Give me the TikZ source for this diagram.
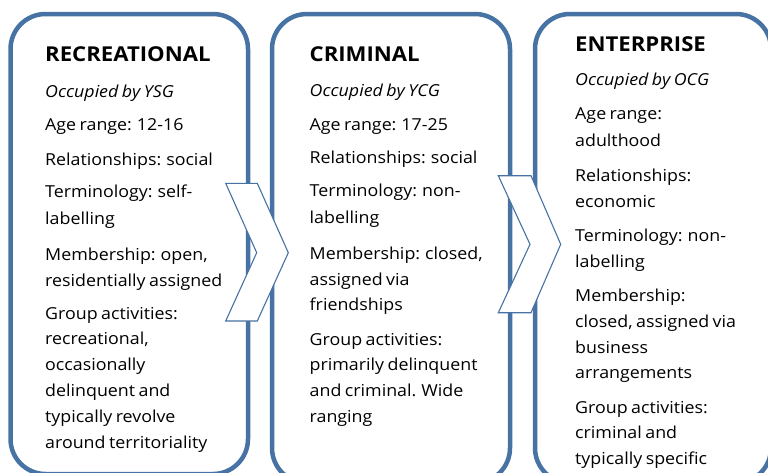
\documentclass[tikz,border=0pt]{standalone}
\usepackage{fontspec}
\setmainfont[FakeStretch=1.08,WordSpace=0.75]{Open Sans}
\definecolor{boxblue}{RGB}{71,114,164}
\tikzset{
  panel/.style={draw=boxblue, line width=4.5pt, rounded corners=35pt, fill=white},
  chev/.style={draw=boxblue, line width=1.1pt, fill=white, line join=miter},
  ttl/.style={anchor=base west, inner sep=0pt, font=\fontsize{20.5}{24}\selectfont\bfseries},
  occ/.style={anchor=base west, inner sep=0pt, font=\fontsize{16.5}{20}\selectfont\itshape},
  txt/.style={anchor=base west, inner sep=0pt, font=\fontsize{16.5}{20}\selectfont},
}
\begin{document}
\begin{tikzpicture}[x=1pt,y=-1pt]
\useasboundingbox (0,0) rectangle (768,472);
\clip (0,0) rectangle (768,472);
% panels
\draw[panel] (10.5,14) rectangle (248,474);
\draw[panel] (272,14) rectangle (510,483);
\draw[panel] (535,14) rectangle (771,483);
% panel 1
\node[ttl] (a0) at (45,61) {RECREATIONAL};
\node[occ] (a1) at (45,97) {Occupied by YSG};
\node[txt] (a2) at (45,130) {Age range: 12-16};
\node[txt] (a3) at (45,165) {Relationships: social};
\node[txt] (a4) at (45,197.5) {Terminology: self-};
\node[txt] (a5) at (45,224) {labelling};
\node[txt] (a6) at (45,260.5) {Membership: open,};
\node[txt] (a7) at (45,286) {residentially assigned};
\node[txt] (a8) at (45,319) {Group activities:};
\node[txt] (a9) at (45,344.5) {recreational,};
\node[txt] (a10) at (45,370.5) {occasionally};
\node[txt] (a11) at (45,396.5) {delinquent and};
\node[txt] (a12) at (45,422) {typically revolve};
\node[txt] (a13) at (45,448) {around territoriality};
% panel 2
\node[ttl] (b0) at (309.5,61.5) {CRIMINAL};
\node[occ] (b1) at (309.5,96.7) {Occupied by YCG};
\node[txt] (b2) at (309.5,130) {Age range: 17-25};
\node[txt] (b3) at (309.5,163.5) {Relationships: social};
\node[txt] (b4) at (309.5,196.7) {Terminology: non-};
\node[txt] (b5) at (309.5,223) {labelling};
\node[txt] (b6) at (309.5,259.3) {Membership: closed,};
\node[txt] (b7) at (309.5,285) {assigned via};
\node[txt] (b8) at (309.5,310.5) {friendships};
\node[txt] (b9) at (309.5,345) {Group activities:};
\node[txt] (b10) at (309.5,370.5) {primarily delinquent};
\node[txt] (b11) at (309.5,396.5) {and criminal. Wide};
\node[txt] (b12) at (309.5,422) {ranging};
% panel 3
\node[ttl] (c0) at (575,51.7) {ENTERPRISE};
\node[occ] (c1) at (575,85) {Occupied by OCG};
\node[txt] (c2) at (575,119.5) {Age range:};
\node[txt] (c3) at (575,146) {adulthood};
\node[txt] (c4) at (575,181.5) {Relationships:};
\node[txt] (c5) at (575,207) {economic};
\node[txt] (c6) at (575,241.5) {Terminology: non-};
\node[txt] (c7) at (575,267) {labelling};
\node[txt] (c8) at (575,301.5) {Membership:};
\node[txt] (c9) at (575,327) {closed, assigned via};
\node[txt] (c10) at (575,353) {business};
\node[txt] (c11) at (575,378.5) {arrangements};
\node[txt] (c12) at (575,413.3) {Group activities:};
\node[txt] (c13) at (575,438.5) {criminal and};
\node[txt] (c14) at (575,464) {typically specific};
% chevrons
\draw[chev] (225.7,183.3) -- (257.3,183.3) -- (288.3,252.7) -- (257.3,321) -- (225.7,321) -- (256.7,252.7) -- cycle;
\draw[chev] (498.3,175.7) -- (531,175.7) -- (560.7,244.3) -- (531,312.7) -- (498.3,312.7) -- (530,244.3) -- cycle;
\end{tikzpicture}
\end{document}
